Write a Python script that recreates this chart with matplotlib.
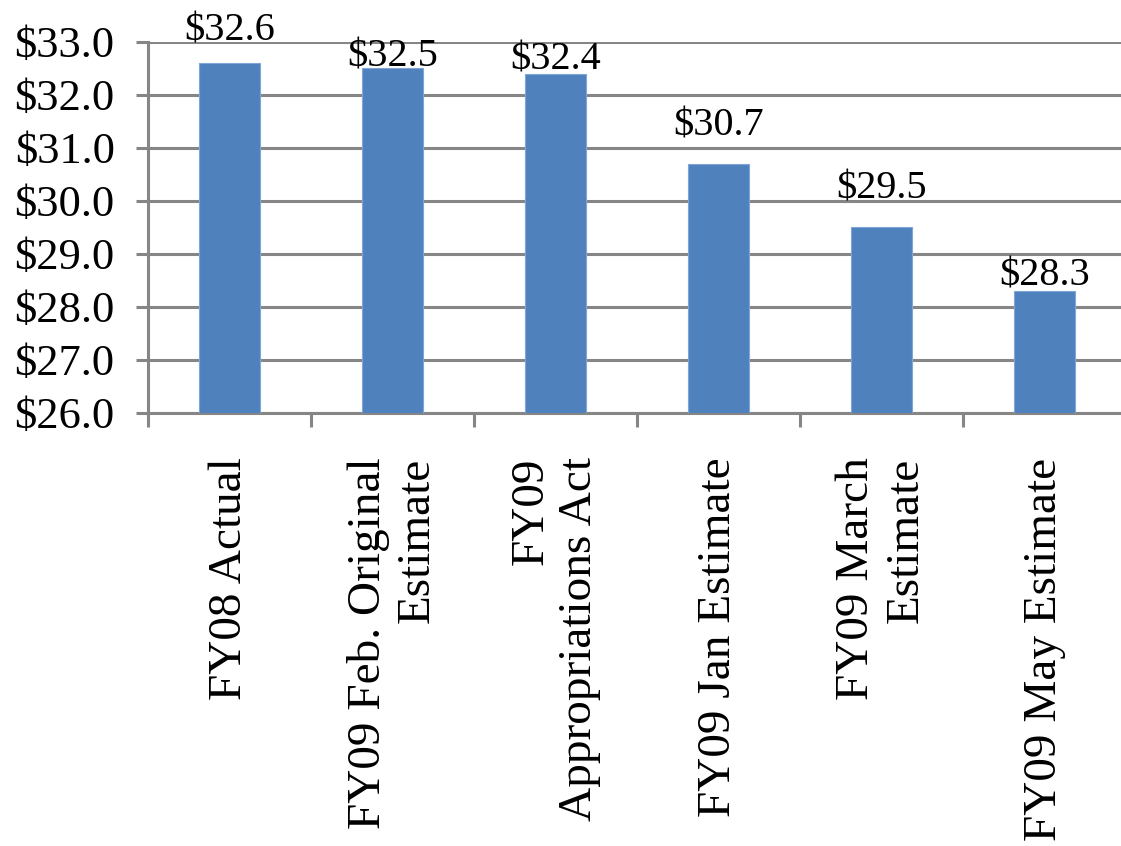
import matplotlib
matplotlib.use('Agg')
import matplotlib.pyplot as plt
import numpy as np

# ----------------------------------------------------------------------
#   Data
# ----------------------------------------------------------------------

categories = ['FY08 Actual',
              'FY09 Feb. Original\nEstimate',
              'FY09\nAppropriations Act',
              'FY09 Jan Estimate',
              'FY09 March\nEstimate',
              'FY09 May Estimate']
values     = [32.6, 32.5, 32.4, 30.7, 29.5, 28.3]   # [$ billions]
y_ticks    = [26.0, 27.0, 28.0, 29.0, 30.0, 31.0, 32.0, 33.0]

# ----------------------------------------------------------------------
#   Plot
# ----------------------------------------------------------------------

plt.rcParams['font.family'] = ['Liberation Serif', 'DejaVu Serif']

bar_color  = '#4F81BD'
grid_color = '#868686'

# data labels were hand placed in the original: gap from bar top to baseline [px]
label_gap  = [23, 2, 4, 28, 29, 6]

fig = plt.figure(figsize=(11.21, 8.46), dpi=100)
ax  = fig.add_axes([148/1121, 1 - 413/846, 978/1121, 371/846])

x = np.arange(len(categories))
ax.bar(x, values, width=0.38, color=bar_color, edgecolor='#7FA6D6', linewidth=0.8, zorder=3)

for xi, v, g in zip(x, values, label_gap):
    ax.annotate('$%.1f' % v, (xi, v), xytext=(0, g*0.72), textcoords='offset points',
                ha='center', va='baseline', fontsize=29, zorder=4)

ax.set_xlim(-0.5, len(categories) - 0.5)
ax.set_ylim(26, 33)
ax.set_yticks(y_ticks)
ax.set_yticklabels(['$%.1f' % t for t in y_ticks], fontsize=32)
ax.yaxis.grid(True, color=grid_color, linewidth=2.2, zorder=0)

# category labels at bar centres, tick marks at category boundaries
ax.set_xticks(x)
ax.set_xticklabels(categories, rotation=90, fontsize=34, va='top', ha='center',
                   multialignment='right')
ax.set_xticks(np.arange(len(categories) + 1) - 0.5, minor=True)
ax.tick_params(axis='x', which='major', length=0, pad=32)
ax.tick_params(axis='x', which='minor', length=10, width=2.2, color=grid_color)
ax.tick_params(axis='y', length=9, width=2.2, color=grid_color, pad=15)

for side in ['top', 'right']:
    ax.spines[side].set_visible(False)
for side in ['left', 'bottom']:
    ax.spines[side].set_color(grid_color)
    ax.spines[side].set_linewidth(2.2)

fig.savefig('out.png', dpi=100)
